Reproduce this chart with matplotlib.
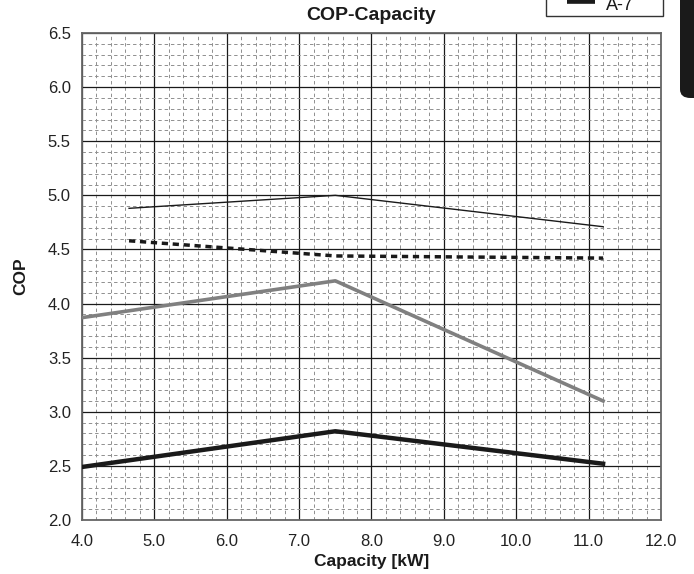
import matplotlib
matplotlib.use("Agg")
import matplotlib.pyplot as plt
from matplotlib.patches import FancyBboxPatch, Rectangle
from matplotlib.lines import Line2D
from matplotlib.transforms import Affine2D
import numpy as np

plt.rcParams['font.family'] = ['Liberation Sans', 'DejaVu Sans']

# Data
x_thin = [4.65, 7.5, 11.2]
y_thin = [4.88, 5.00, 4.71]

x_dash = [4.65, 7.5, 11.2]
y_dash = [4.58, 4.44, 4.42]

x_gray = [4.0, 7.5, 11.2]
y_gray = [3.87, 4.21, 3.10]

x_thick = [4.0, 7.5, 11.2]
y_thick = [2.49, 2.82, 2.52]

xticks = [4.0, 5.0, 6.0, 7.0, 8.0, 9.0, 10.0, 11.0, 12.0]
yticks = [2.0, 2.5, 3.0, 3.5, 4.0, 4.5, 5.0, 5.5, 6.0, 6.5]
legend_label = "A-7"

W, H = 694, 574
fig = plt.figure(figsize=(W / 100, H / 100), dpi=100)
ax = fig.add_axes([82 / W, 1 - 520 / H, (661 - 82) / W, (520 - 33) / H])

ax.set_xlim(4, 12)
ax.set_ylim(2, 6.5)
ax.set_xticks(xticks)
ax.set_yticks(yticks)
ax.set_xticklabels([f"{v:.1f}" for v in xticks])
ax.set_yticklabels([f"{v:.1f}" for v in yticks])
ax.set_xticks(np.arange(4, 12.001, 0.2), minor=True)
ax.set_yticks(np.arange(2, 6.501, 0.1), minor=True)
ax.tick_params(which='both', length=0)
ax.tick_params(axis='x', pad=10, labelsize=12, colors='#222222')
ax.tick_params(axis='y', pad=8, labelsize=12, colors='#222222')
ax.grid(which='minor', color='#8f8f8f', linestyle=(0, (3.5, 3.0)), linewidth=0.7)
ax.grid(which='major', color='#1a1a1a', linestyle='-', linewidth=0.9)
ax.set_axisbelow(True)
for s in ax.spines.values():
    s.set_color('#666666')
    s.set_linewidth(1.3)

ax.plot(x_thin, y_thin, color='#1a1a1a', linewidth=1.0, zorder=3)
ax.plot(x_dash, y_dash, color='#1a1a1a', linewidth=2.5, linestyle=(0, (1.8, 1.35)), zorder=3)
ax.plot(x_gray, y_gray, color='#808080', linewidth=2.6, zorder=3)
ax.plot(x_thick, y_thick, color='#1a1a1a', linewidth=3.2, zorder=3)

ax.set_title("COP-Capacity", fontsize=14, fontweight='bold', pad=9, color='#1a1a1a')
ax.set_xlabel("Capacity [kW]", fontsize=12.5, fontweight='bold', labelpad=4, color='#1a1a1a')
ax.set_ylabel("COP", fontsize=12.5, fontweight='bold', labelpad=14, color='#1a1a1a')

# Legend box (cut off at the top of the figure), in pixel coords from top-left
px = Affine2D().scale(1 / W, -1 / H).translate(0, 1) + fig.transFigure
fig.add_artist(Rectangle((546, -40), 117, 56, transform=px, facecolor='white',
                         edgecolor='#333333', linewidth=1.0, zorder=5))
fig.add_artist(Line2D([567, 595], [0, 0], transform=px, color='#1a1a1a',
                      linewidth=5.5, solid_capstyle='butt', zorder=6))
fig.text(606, 10, legend_label, transform=px, fontsize=13, color='#1a1a1a',
         ha='left', va='baseline', zorder=6)

# Black tab on right edge
tab = FancyBboxPatch((680 / W, 1 - 98 / H), 0.1, 98 / H + 0.1,
                     boxstyle="round,pad=0,rounding_size=0.015",
                     transform=fig.transFigure, facecolor='#1a1a1a',
                     edgecolor='none')
fig.patches.append(tab)

fig.savefig("out.png", dpi=100)
